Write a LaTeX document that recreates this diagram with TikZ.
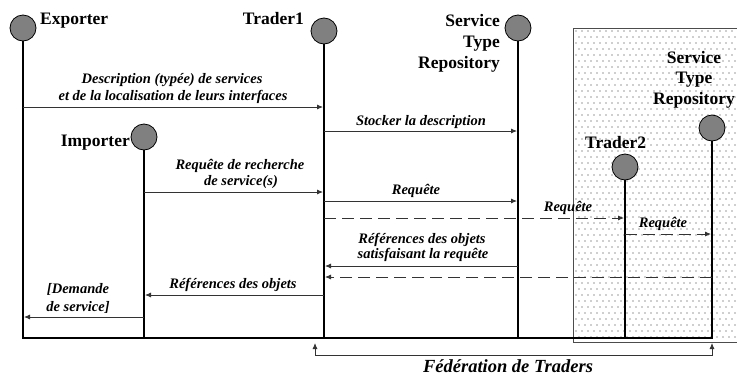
\documentclass[tikz,border=0pt]{standalone}
\usepackage{fontspec}
\setmainfont{Liberation Serif}
\usetikzlibrary{arrows.meta}
\begin{document}
\begin{tikzpicture}[x=1pt,y=-1pt,
  head/.style={circle,draw=black,line width=0.8pt,fill=black!50,minimum size=26pt,inner sep=0pt},
  life/.style={line width=1.7pt,line cap=rect},
  msg/.style={line width=0.8pt,draw=black!80,shorten >=1pt,-{Latex[length=6pt,width=5pt]}},
  dmsg/.style={msg,dash pattern=on 12pt off 6pt},
  lbl/.style={font=\fontsize{14.5}{16.5}\selectfont\bfseries\itshape,inner sep=0pt,anchor=base},
  hl/.style={font=\fontsize{17.5}{20.5}\selectfont\bfseries,inner sep=0pt},
  fedtip/.style={{Latex[length=6pt,width=5pt]}-{Latex[length=6pt,width=5pt]}},
]
\useasboundingbox[fill=white] (0,0) rectangle (737,378);
% federation box with dots
\foreach \j in {0,...,25}{
  \foreach \i in {0,...,26}{
    \fill[black!80] (576+6*\i,31+12*\j) circle (0.6pt);
    \fill[black!80] (579+6*\i,37+12*\j) circle (0.6pt);
  }
}
\draw[black!70,line width=0.9pt] (740,28) -- (573,28) -- (573,342) -- (740,342);
% heads
\node[head] (exp) at (23,28) {};
\node[head] (tr1) at (324,31) {};
\node[head] (str1) at (518,28) {};
\node[head] (imp) at (144,137) {};
\node[head] (tr2) at (625,167) {};
\node[head] (str2) at (712,128) {};
% head labels
\node[hl,anchor=base west] (expl) at (40,24) {Exporter};
\node[hl,anchor=base east] (tr1l) at (304,24) {Trader1};
\node[hl,anchor=base east] (str1a) at (500,26) {Service};
\node[hl,anchor=base east] (str1b) at (500,47) {Type};
\node[hl,anchor=base east] (str1c) at (500,68) {Repository};
\node[hl,anchor=base east] (impl) at (130,146) {Importer};
\node[hl,anchor=base west] (tr2l) at (585,148) {Trader2};
\node[hl,anchor=base] (str2a) at (694,63) {Service};
\node[hl,anchor=base] (str2b) at (694,83.5) {Type};
\node[hl,anchor=base] (str2c) at (694,104) {Repository};
% lifelines
\coordinate (expb) at (exp |- 0,338);
\coordinate (str2b0) at (str2 |- 0,338);
\draw[life] (exp.south) -- (expb);
\draw[life] (tr1.south) -- (tr1 |- 0,338);
\draw[life] (str1.south) -- (str1 |- 0,338);
\draw[life] (imp.south) -- (imp |- 0,338);
\draw[life] (tr2.south) -- (tr2 |- 0,338);
\draw[life] (str2.south) -- (str2b0);
\draw[line width=1.3pt] (expb) -- (str2b0);
% messages
\draw[msg] (exp |- 0,107) -- (tr1 |- 0,107);
\node[lbl] (l1a) at (172,83) {Description (typée) de services};
\node[lbl] (l1b) at (173,100) {et de la localisation de leurs interfaces};
\draw[msg] (tr1 |- 0,131) -- (str1 |- 0,131);
\node[lbl] (l2) at (421,125) {Stocker la description};
\draw[msg] (imp |- 0,192) -- (tr1 |- 0,192);
\node[lbl] (l3a) at (240,169) {Requête de recherche};
\node[lbl] (l3b) at (241,185) {de service(s)};
\draw[msg] (tr1 |- 0,201) -- (str1 |- 0,201);
\node[lbl] (l4) at (416,194) {Requête};
\draw[dmsg] (tr1 |- 0,218) -- (tr2 |- 0,218);
\node[lbl] (l5) at (568,211) {Requête};
\draw[dmsg] (tr2 |- 0,234) -- (str2 |- 0,234);
\node[lbl] (l6) at (663,227) {Requête};
\draw[msg] (str1 |- 0,266) -- (tr1 |- 0,266);
\node[lbl] (l7a) at (422,243) {Références des objets};
\node[lbl] (l7b) at (423,258) {satisfaisant la requête};
\draw[dmsg] (str2 |- 0,277) -- (tr1 |- 0,277);
\draw[msg] (tr1 |- 0,295) -- (imp |- 0,295);
\node[lbl] (l9) at (233,288) {Références des objets};
\draw[msg] (imp |- 0,317) -- (exp |- 0,317);
\node[lbl] (l10a) at (78,293) {[Demande};
\node[lbl] (l10b) at (78,311) {de service]};
% federation
\coordinate (fa) at (315,343);
\coordinate (fb) at (712,343);
\draw[fedtip,line width=0.8pt,draw=black!80] (fa) -- ++(0,12) -| (fb);
\node[font=\fontsize{18.5}{22}\selectfont\bfseries\itshape,inner sep=0pt,anchor=base] (fed) at (508,372) {Fédération de Traders};
\end{tikzpicture}
\end{document}
